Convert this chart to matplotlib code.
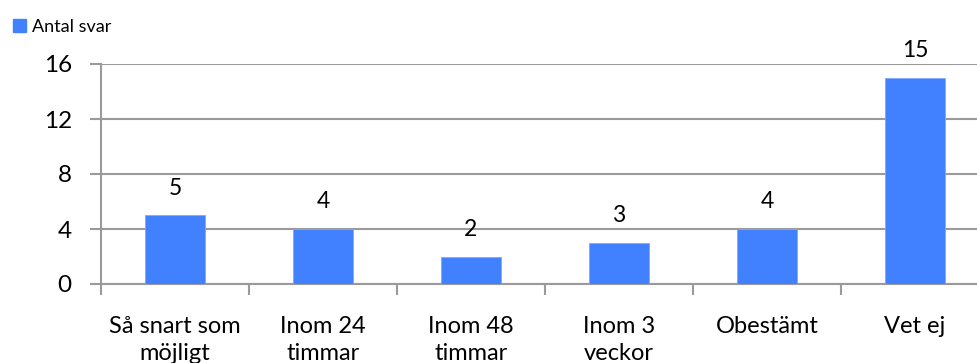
import matplotlib
matplotlib.use("Agg")
import matplotlib.pyplot as plt
from matplotlib.patches import Patch
import numpy as np

categories = ["Så snart som\nmöjligt", "Inom 24\ntimmar", "Inom 48\ntimmar",
              "Inom 3\nveckor", "Obestämt", "Vet ej"]
values = [5, 4, 2, 3, 4, 15]
y_ticks = [0, 4, 8, 12, 16]
series_name = "Antal svar"

bar_color = "#4181FF"
grid_color = "#9a9a9a"
plt.rcParams["font.family"] = ["Lato", "DejaVu Sans"]

W, H = 978, 363
fig = plt.figure(figsize=(W / 100, H / 100), dpi=100)
ax = fig.add_axes([101 / W, (H - 284) / H, 888 / W, 220 / H])

x = np.arange(len(categories))
ax.bar(x, values, width=0.4, color=bar_color, edgecolor="#7fa8ff", linewidth=0.6, zorder=3)

for xi, v in zip(x, values):
    ax.annotate(str(v), (xi, v), xytext=(0, 12), textcoords="offset points",
                ha="center", va="bottom", fontsize=16.5)

ax.set_xlim(-0.5, len(categories) - 0.5)
ax.set_ylim(0, 16)
ax.set_yticks(y_ticks)
ax.set_yticklabels([str(t) for t in y_ticks], fontsize=17.5)
ax.yaxis.grid(True, color=grid_color, linewidth=1.5, zorder=0)
ax.set_axisbelow(True)

ax.set_xticks(x)
ax.set_xticklabels(categories, fontsize=17, linespacing=1.35)
ax.set_xticks(np.arange(-0.5, len(categories), 1.0), minor=True)
ax.tick_params(axis="x", which="major", length=0, pad=23)
ax.tick_params(axis="x", which="minor", length=8, width=1.5, color=grid_color)
ax.tick_params(axis="y", length=8, width=1.5, color=grid_color, pad=13)

for s in ["top", "right"]:
    ax.spines[s].set_visible(False)
for s in ["left", "bottom"]:
    ax.spines[s].set_color(grid_color)
    ax.spines[s].set_linewidth(1.5)

fig.legend(handles=[Patch(facecolor=bar_color, edgecolor=bar_color)], labels=[series_name],
           loc="upper left", bbox_to_anchor=(0 / W, 1 - 6 / H), frameon=False,
           fontsize=13, handlelength=0.75, handleheight=0.75, handletextpad=0.35,
           borderpad=0.2)

fig.savefig("out.png", dpi=100)
